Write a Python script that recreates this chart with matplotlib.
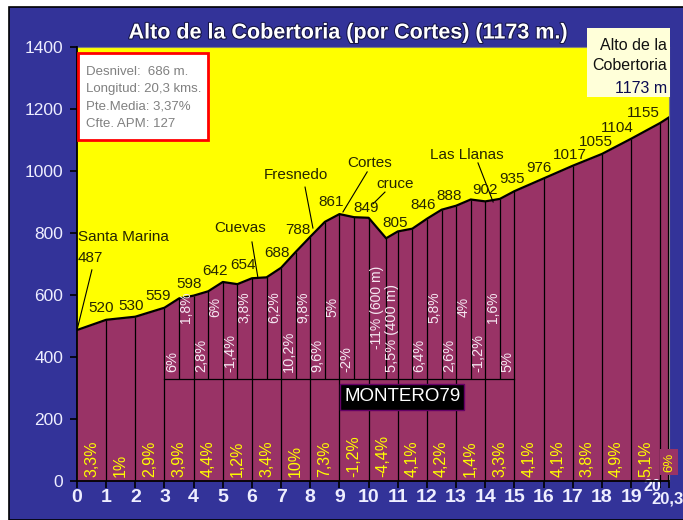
import numpy as np
import matplotlib
matplotlib.use('Agg')
import matplotlib.pyplot as plt
import matplotlib.patheffects as pe
from matplotlib.patches import Rectangle

# profile of the climb: km and altitude (m)
km = [0, 1, 2, 3, 3.5, 4, 4.5, 5, 5.5, 6, 6.5, 7, 7.5, 8, 8.5, 9, 9.5, 10,
      10.6, 11, 11.5, 12, 12.5, 13, 13.5, 14, 14.5, 15, 16, 17, 18, 19, 20, 20.3]
alt = [487, 520, 530, 559, 589, 598, 612, 642, 635, 654, 657, 688, 739, 788, 836, 861, 851, 849,
       783, 805, 814, 846, 875, 888, 908, 902, 910, 935, 976, 1017, 1055, 1104, 1155, 1173]

# altitude labels above the profile
label_km = [1, 2, 3, 4, 5, 6, 7, 8, 9, 10, 11, 12, 13, 14, 15, 16, 17, 18, 19, 20]
label_alt = [520, 530, 559, 598, 642, 654, 688, 788, 861, 849, 805, 846, 888, 902, 935,
             976, 1017, 1055, 1104, 1155]
label_dx = [-5, -4, -6, -5, -8, -9, -4, -12, -8, -3, -3, -4, -7, 0, -2, -5, -3, -6, -14, -17]
label_dy = [12, 11, 12, 12, 11, 13, 15, 7, 12, 10, 8, 14, 10, 11, 12, 10, 11, 12, 11, 10]

# gradient of every km
km_grad = ['3,3%', '1%', '2,9%', '3,9%', '4,4%', '1,2%', '3,4%', '10%', '7,3%', '-1,2%',
           '-4,4%', '4,1%', '4,2%', '1,4%', '3,3%', '4,1%', '4,1%', '3,8%', '4,9%', '5,1%']
last_grad = '6%'

# gradient of every half km between km 3 and km 15
half_from = [3, 3.5, 4, 4.5, 5, 5.5, 6.5, 7, 7.5, 8, 8.5, 9, 10, 10.6, 11.5, 12, 12.5, 13, 13.5, 14, 14.5]
half_to = [3.5, 4, 4.5, 5, 5.5, 6, 7, 7.5, 8, 8.5, 9, 9.5, 10.6, 11, 12, 12.5, 13, 13.5, 14, 14.5, 15]
half_grad = ['6%', '1,8%', '2,8%', '6%', '-1,4%', '3,8%', '6,2%', '10,2%', '9,8%', '9,6%', '5%',
             '-2%', '-11% (600 m)', '5,5% (400 m)', '6,4%', '5,8%', '2,6%', '4%', '-1,2%', '1,6%', '5%']
half_row = ['low', 'up', 'low', 'up', 'low', 'up', 'up', 'low', 'up', 'low', 'up',
            'low', 'up', 'low', 'low', 'up', 'low', 'up', 'low', 'up', 'low']
half_marks = [3.5, 4.5, 5.5, 6.5, 7.5, 8.5, 9.5, 10.6, 11.5, 12.5, 13.5, 14.5]

# places: name, text position, leader line (start, end)
places = ['Cuevas', 'Fresnedo', 'Cortes', 'cruce', 'Las Llanas']
place_xy = [(5.59, 816), (7.51, 987), (10.05, 1026), (10.9, 958), (13.37, 1052)]
place_line = [((6.0, 771), (6.2, 658)), ((7.82, 948), (8.09, 816)), ((9.95, 997), (9.12, 868)),
              ((10.56, 932), (10.15, 894)), ((13.75, 1026), (14.27, 900))]

info = ['Desnivel:  686 m.', 'Longitud: 20,3 kms.', 'Pte.Media: 3,37%', 'Cfte. APM: 127']

W, H = 683, 520
SANS = ['Liberation Sans', 'DejaVu Sans']
MAROON = '#993366'
TXT = '#262600'


def fx(px):
    return px / W


def fy(py):
    return 1 - py / H


fig = plt.figure(figsize=(W / 100, H / 100), dpi=100, facecolor='white')
fig.add_artist(Rectangle((fx(9), 0), 1, fy(7), transform=fig.transFigure,
                         fc='#333399', ec='black', lw=1.2, zorder=0))

ax = fig.add_axes([fx(77), fy(481), fx(669) - fx(77), fy(47) - fy(481)])
ax.set_facecolor('#ffff00')
ax.set_xlim(0, 20.3)
ax.set_ylim(0, 1400)

ax.fill_between(km, alt, 0, color=MAROON, lw=0, zorder=1)

# vertical separators
top = np.interp(range(1, 21), km, alt)
ax.vlines(range(1, 21), 0, top, color='black', lw=0.9, zorder=2)
top_half = np.interp(half_marks, km, alt)
ax.vlines(half_marks, 329, top_half, color='black', lw=0.9, zorder=2)
ax.vlines(20.3, 0, 1173, color='black', lw=1.6, zorder=3)
ax.plot([3, 15], [329, 329], color='black', lw=0.9, zorder=2)
ax.plot(km, alt, color='black', lw=1.6, zorder=3)

# gradient per km, bottom strip
for i, g in enumerate(km_grad):
    ax.text(i + 0.5, 12, g, rotation=90, ha='center', va='bottom', color='#ffff00',
            fontsize=11.5, family=SANS, zorder=4)
ax.text(20.3, 30, last_grad, rotation=90, ha='center', va='bottom', color='#ffff00',
        fontsize=9.5, family=SANS, zorder=5, clip_on=False,
        bbox=dict(boxstyle='square,pad=0.25', fc=MAROON, ec='none'))

# gradient per half km
for a, b, g, r in zip(half_from, half_to, half_grad, half_row):
    if r == 'low':
        ax.text((a + b) / 2, 352, g, rotation=90, ha='center', va='bottom',
                color='#f6e8f2', fontsize=10.5, family=SANS, zorder=4)
    else:
        ax.text((a + b) / 2, 560, g, rotation=90, ha='center', va='center',
                color='#f6e8f2', fontsize=10, family=SANS, zorder=4)

# altitude labels
for x, y, dx, dy in zip(label_km, label_alt, label_dx, label_dy):
    ax.annotate(str(y), (x, y), xytext=(dx, dy), textcoords='offset pixels',
                ha='center', va='center', fontsize=11, color=TXT, family=SANS, zorder=5)

ax.text(0.03, 787, 'Santa Marina', ha='left', va='center', fontsize=11, color=TXT, family=SANS, zorder=5)
ax.text(0.45, 719, str(alt[0]), ha='center', va='center', fontsize=11, color=TXT, family=SANS, zorder=5)
ax.plot([0.51, 0], [681, alt[0]], color='black', lw=0.8, zorder=4)

for name, (tx, ty), (p0, p1) in zip(places, place_xy, place_line):
    ax.text(tx, ty, name, ha='center', va='center', fontsize=11, color=TXT, family=SANS, zorder=5)
    ax.plot([p0[0], p1[0]], [p0[1], p1[1]], color='black', lw=0.8, zorder=4)

# signature box
ax.text(11.15, 271, 'MONTERO79', ha='center', va='center', fontsize=13.5, color='white',
        family=SANS, zorder=6,
        bbox=dict(boxstyle='square,pad=0.22', fc='black', ec='#660066', lw=1))

# axes styling
for s in ['top', 'right']:
    ax.spines[s].set_color('#808080')
    ax.spines[s].set_linewidth(0.8)
for s in ['left', 'bottom']:
    ax.spines[s].set_color('black')
    ax.spines[s].set_linewidth(1.3)
    ax.spines[s].set_zorder(6)

ax.set_yticks(range(0, 1401, 200))
ax.set_yticklabels([str(v) for v in range(0, 1401, 200)], family=SANS, fontsize=12.5,
                   color='#eeeeff')
ax.tick_params(axis='y', length=5, width=1.2, color='black', pad=5)

ax.set_xticks(list(range(21)) + [20.3])
ax.set_xticklabels([str(v) for v in range(20)] + ['', ''], family=SANS, fontsize=14,
                   fontweight='bold', color='#eeeeff')
ax.tick_params(axis='x', length=5, width=1.2, color='black', pad=1)
ax.annotate('20', (20, 0), xycoords=('data', 'axes fraction'), xytext=(-8, 2),
            textcoords='offset pixels', ha='center', va='top', family=SANS,
            fontsize=11.5, fontweight='bold', color='#eeeeff', annotation_clip=False)
ax.annotate('20,3', (20.3, 0), xycoords=('data', 'axes fraction'), xytext=(-2, -10),
            textcoords='offset pixels', ha='center', va='top', family=SANS,
            fontsize=12, fontweight='bold', color='#eeeeff', annotation_clip=False)

# title
fig.text(fx(348), fy(33), 'Alto de la Cobertoria (por Cortes) (1173 m.)', ha='center',
         va='center', fontsize=15.5, fontweight='bold', color='white', family=SANS,
         path_effects=[pe.withStroke(linewidth=1.5, foreground='#151545')])

# info box
fig.add_artist(Rectangle((fx(78), fy(140)), fx(208) - fx(78), fy(53) - fy(140),
                         transform=fig.transFigure, fc='white', ec='#ff0000', lw=2, zorder=7))
for i, line in enumerate(info):
    fig.text(fx(86), fy(72 + i * 17.3), line, ha='left', va='center', fontsize=9.5,
             color='#808080', family=SANS, zorder=8)

# summit box
fig.add_artist(Rectangle((fx(587), fy(97)), fx(670) - fx(587), fy(28) - fy(97),
                         transform=fig.transFigure, fc='#ffffd9', ec='none', zorder=7))
for line, y, c in zip(['Alto de la', 'Cobertoria', '1173 m'], [45, 66, 88],
                      ['#111111', '#111111', '#0a0a50']):
    fig.text(fx(667), fy(y), line, ha='right', va='center', fontsize=11.5, color=c,
             family=SANS, zorder=8)

fig.savefig('out.png', dpi=100, facecolor='white')
